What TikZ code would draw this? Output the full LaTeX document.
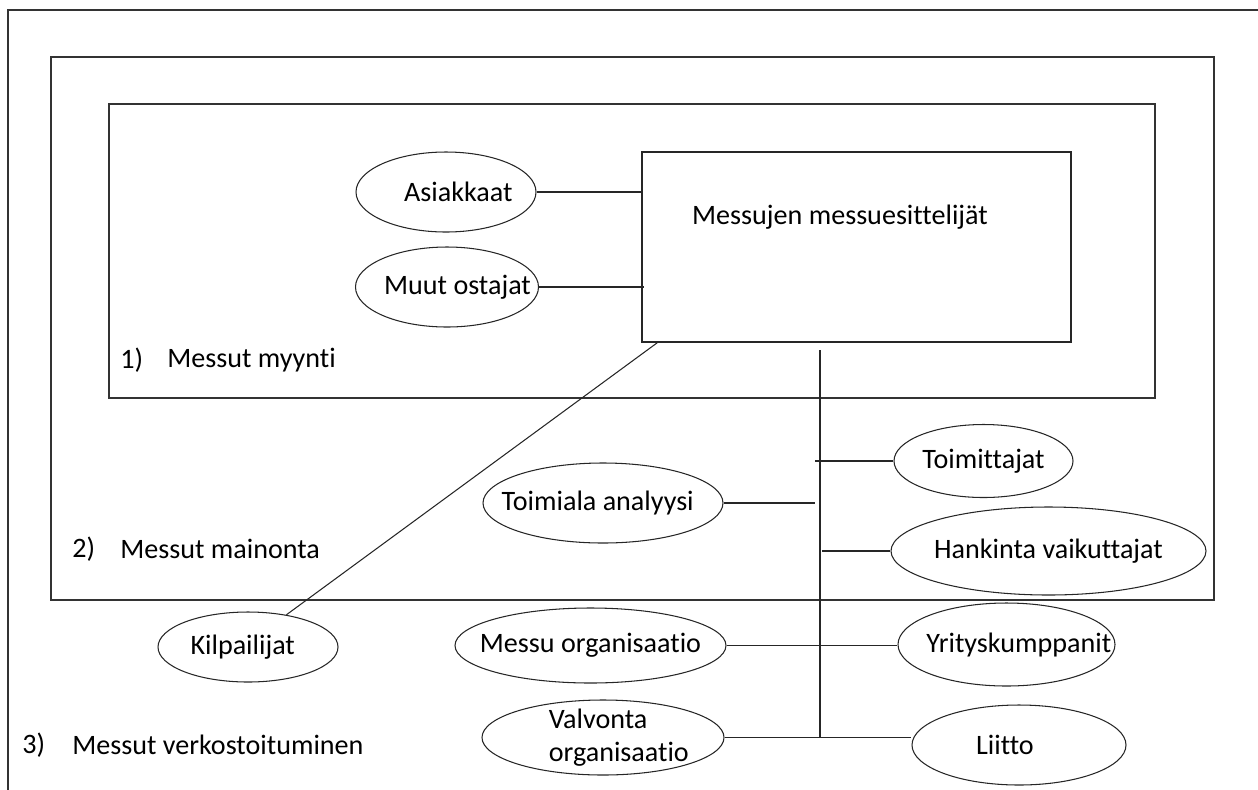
\documentclass[tikz,border=0pt]{standalone}
\usepackage{fontspec}
\setmainfont{Carlito}[Ligatures=NoCommon]
\usetikzlibrary{shapes.geometric}

\begin{document}
\begin{tikzpicture}[x=0.02cm, y=-0.02cm,
    font=\fontsize{16}{19}\selectfont,
    frame/.style={draw=black!80, line width=0.9pt},
    oval/.style 2 args={ellipse, draw=black!85, line width=0.6pt, inner sep=0pt, minimum width=#1*0.02cm, minimum height=#2*0.02cm},
    link/.style={draw=black!85, line width=0.6pt},
    txt/.style={anchor=west, inner sep=0pt}]
  \useasboundingbox (0,0) rectangle (1258,789);
  % the three levels
  \draw[frame] (8,800) |- (1270,10);
  \draw[frame] (51,57) rectangle (1214,600);
  \draw[frame] (109,104) rectangle (1155,398);
  \node[txt] (num1) at (120,360) {1)};
  \node[txt] (lvl1) at (167,360) {Messut myynti};
  \node[txt] (num2) at (72,549) {2)};
  \node[txt] (lvl2) at (120,549) {Messut mainonta};
  \node[txt] (num3) at (22,745) {3)};
  \node[txt] (lvl3) at (72,745) {Messut verkostoituminen};
  % centre box
  \node[draw=black!85, line width=0.8pt, minimum width=8.58cm, minimum height=3.8cm, label={[xshift=-0.33cm, yshift=0.6cm]center:Messujen messuesittelijät}] (box) at (856.5,247) {};
  \node[oval={180}{80}, label={[xshift=7pt]center:Asiakkaat}] (asiak) at (446,192) {};
  \node[oval={183}{80}, label={[xshift=6pt]center:Muut ostajat}] (muut) at (447,287) {};
  \draw[link] (asiak.east) -- (asiak.east -| box.west);
  \draw[link] (muut.east) -- ([xshift=0.06cm]muut.east -| box.west);
  \node[oval={180}{70}, label={[xshift=-3pt]center:Kilpailijat}] (kilp) at (248,647) {};
  \draw[link] ([xshift=0.32cm]box.south west) -- (kilp.40);
  % network
  \coordinate (trunktop) at (820,350);
  \coordinate (trunkbot) at (820,738);
  \draw[link] (trunktop) -- (trunkbot);
  \node[oval={179}{73}, label={center:Toimittajat}] (toim) at (983.5,461) {};
  \node[oval={240}{80}, label={[xshift=-3pt]center:Toimiala analyysi}] (toimiala) at (603,503) {};
  \node[oval={315}{88}, label={center:Hankinta vaikuttajat}] (hank) at (1048.5,551) {};
  \node[oval={271}{75}, label={center:Messu organisaatio}] (messuorg) at (590.5,645.5) {};
  \node[oval={217}{83}, label={[xshift=7pt]center:Yrityskumppanit}] (yrit) at (1006.5,644.5) {};
  \node[oval={242}{75}, label={[xshift=9pt, align=left]center:Valvonta\\organisaatio}] (valv) at (603,737.5) {};
  \node[oval={214}{80}, label={[xshift=-8pt]center:Liitto}] (liitto) at (1019,745) {};
  \draw[link] (toim.west) -- ([xshift=-0.1cm]toim.west -| trunktop);
  \draw[link] (toimiala.east) -- ([xshift=-0.1cm]toimiala.east -| trunktop);
  \draw[link] (hank.west) -- ([xshift=0.04cm]hank.west -| trunktop);
  \draw[link] (messuorg.east) -- (messuorg.east -| yrit.west);
  \draw[link] (valv.east) -- (valv.east -| liitto.west);
\end{tikzpicture}
\end{document}
